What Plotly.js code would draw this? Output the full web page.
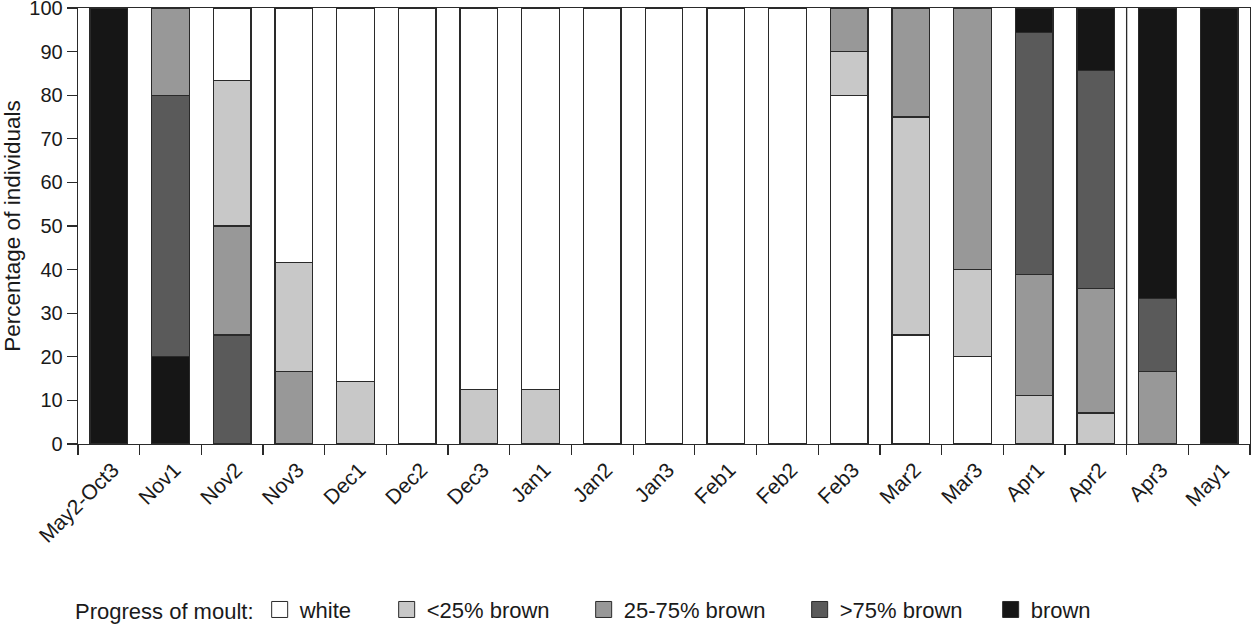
<!DOCTYPE html>
<html>
<head>
<meta charset="utf-8">
<script src="https://cdn.plot.ly/plotly-3.0.1.min.js"></script>
<style>
  html, body { margin: 0; padding: 0; background: #fff; }
  #chart { width: 1251px; height: 625px; }
</style>
</head>
<body>
<div id="chart"></div>
<script>
// ---- data ----
const categories = ["May2-Oct3", "Nov1", "Nov2", "Nov3", "Dec1", "Dec2", "Dec3", "Jan1", "Jan2", "Jan3",
                    "Feb1", "Feb2", "Feb3", "Mar2", "Mar3", "Apr1", "Apr2", "Apr3", "May1"];
// stacking order used for each period: "autumn" stacks brown at the bottom, "spring" stacks white at the bottom
const season = ["autumn", "autumn", "autumn", "autumn", "autumn", "autumn", "autumn", "autumn", "autumn", "autumn",
                "autumn", "autumn", "spring", "spring", "spring", "spring", "spring", "spring", "spring"];
const white    = [0, 0, 16.67, 58.33, 85.71, 100, 87.5, 87.5, 100, 100, 100, 100, 80, 25, 20, 0, 0, 0, 0];
const lt25     = [0, 0, 33.33, 25, 14.29, 0, 12.5, 12.5, 0, 0, 0, 0, 10, 50, 20, 11.11, 7.14, 0, 0];
const mid2575  = [0, 20, 25, 16.67, 0, 0, 0, 0, 0, 0, 0, 0, 10, 25, 60, 27.78, 28.57, 16.67, 0];
const gt75     = [0, 60, 25, 0, 0, 0, 0, 0, 0, 0, 0, 0, 0, 0, 0, 55.56, 50, 16.67, 0];
const brown    = [100, 20, 0, 0, 0, 0, 0, 0, 0, 0, 0, 0, 0, 0, 0, 5.56, 14.29, 66.67, 100];
const seriesNames = ["white", "<25% brown", "25-75% brown", ">75% brown", "brown"];
const legendTitle = "Progress of moult:";
const yTitle = "Percentage of individuals";
const yTickVals = [0, 10, 20, 30, 40, 50, 60, 70, 80, 90, 100];

// ---- styling ----
const colors = ["#ffffff", "#c8c8c8", "#989898", "#5a5a5a", "#161616"];
const outline = "#2a2a2a";
const font = "Liberation Sans, Arial, sans-serif";
const series = [white, lt25, mid2575, gt75, brown];
const legendWidths = [82, 152, 171, 146, 60];

function pick(vals, which) {
  return vals.map((v, i) => (season[i] === which && v > 0) ? v : null);
}

const traces = [];
// autumn: brown first (bottom) -> white on top
[4, 3, 2, 1, 0].forEach(k => {
  traces.push({
    type: "bar", x: categories, y: pick(series[k], "autumn"), name: seriesNames[k],
    marker: { color: colors[k], line: { color: outline, width: 1.3 } },
    showlegend: false, hoverinfo: "x+y+name"
  });
});
// spring: white first (bottom) -> brown on top
[0, 1, 2, 3, 4].forEach(k => {
  traces.push({
    type: "bar", x: categories, y: pick(series[k], "spring"), name: seriesNames[k],
    marker: { color: colors[k], line: { color: outline, width: 1.3 } },
    showlegend: false, hoverinfo: "x+y+name"
  });
});
// legend entries
[0, 1, 2, 3, 4].forEach(k => {
  traces.push({
    type: "scatter", mode: "markers", x: [null], y: [null], name: seriesNames[k],
    marker: { symbol: "square", size: 16, color: colors[k], line: { color: outline, width: 1 } },
    showlegend: true, legendrank: k + 1, legendwidth: legendWidths[k], hoverinfo: "skip"
  });
});

const layout = {
  width: 1251, height: 625,
  margin: { l: 78, r: 1, t: 8, b: 181, autoexpand: false },
  paper_bgcolor: "#fff", plot_bgcolor: "#fff",
  font: { family: font, size: 20, color: "#1a1a1a" },
  barmode: "stack", bargap: 0.39,
  xaxis: {
    type: "category", range: [-0.5, 18.5], tickson: "boundaries",
    ticks: "outside", ticklen: 10, tickwidth: 1.3, tickcolor: outline,
    tickangle: -45, tickfont: { size: 21 }, ticklabelstandoff: 4, ticklabelshift: 4,
    showline: true, linecolor: outline, linewidth: 1.3, mirror: true,
    showgrid: false, zeroline: false, fixedrange: true
  },
  yaxis: {
    range: [0, 100], tickvals: yTickVals, ticks: "outside", ticklen: 10, tickwidth: 1.3, tickcolor: outline,
    tickfont: { size: 20 }, ticklabeloverflow: "allow",
    showline: true, linecolor: outline, linewidth: 1.3, mirror: true,
    showgrid: false, zeroline: false, fixedrange: true,
    title: { text: yTitle, font: { size: 22.5 }, standoff: 19 }
  },
  legend: {
    orientation: "h", x: 0.155, xanchor: "left", y: -0.380, yanchor: "middle",
    font: { size: 22 }, bgcolor: "rgba(0,0,0,0)", traceorder: "normal"
  },
  annotations: [
    { text: legendTitle, xref: "paper", yref: "paper", x: -0.0045, xanchor: "left", y: -0.385, yanchor: "middle",
      showarrow: false, font: { size: 22 } }
  ],
  shapes: [
    { type: "line", xref: "x", yref: "paper", x0: 16.5, x1: 16.5, y0: 0, y1: 1,
      line: { color: outline, width: 1.3 } }
  ],
  showlegend: true
};

Plotly.newPlot("chart", traces, layout, { displayModeBar: false, staticPlot: true });
</script>
</body>
</html>
